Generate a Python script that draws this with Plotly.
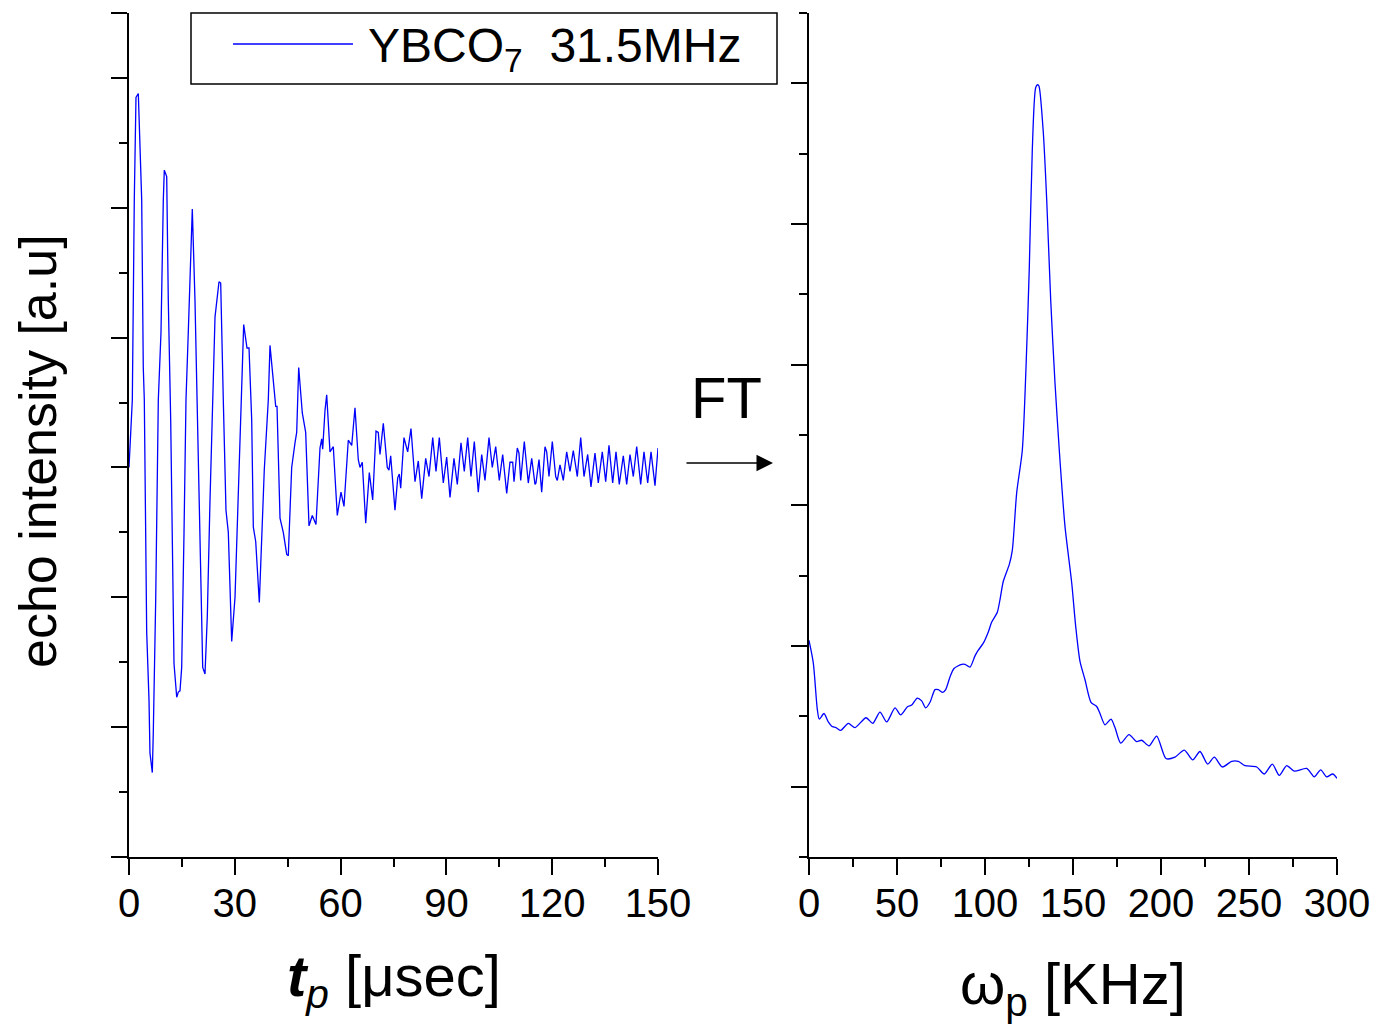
import plotly.graph_objects as go

# ---------------- data ----------------
# left panel: spin-echo intensity vs pulse separation t_p [usec]
echo_t = [0, 0.94, 1.50, 1.98, 2.64, 3.60, 4.05, 4.34, 5.02, 5.67, 5.95, 6.61, 6.89, 7.57,
          8.31, 9.07, 9.73, 10.01, 10.69, 11.14, 11.82, 12.11, 12.76, 13.53, 13.98, 14.46,
          14.94, 15.60, 16.16, 16.81, 17.50, 17.95, 18.71, 19.37, 19.65, 20.33, 20.90, 21.55,
          22.20, 22.97, 23.73, 24.39, 25.52, 26.00, 26.74, 26.94, 27.50, 28.16, 29.12, 30.06,
          30.99, 31.76, 32.52, 33.46, 34.03, 34.79, 35.25, 35.93, 36.95, 38.36, 39.50, 39.98,
          41.60, 41.97, 42.82, 43.75, 44.72, 45.17, 46.13, 47.07, 47.55, 48.12, 49.14, 50.10,
          51.04, 51.97, 53.02, 54.16, 54.64, 54.92, 55.58, 56.06, 56.80, 56.99, 57.93, 59.06,
          60.11, 60.96, 62.18, 63.15, 64.08, 65.02, 65.50, 66.15, 67.12, 68.14, 69.10, 70.04,
          70.69, 71.17, 72.11, 73.24, 73.72, 74.20, 75.42, 76.19, 76.64, 77.04, 77.97, 79.02,
          79.96, 81.10, 82.03, 83.00, 84.13, 85.07, 86.12, 87.05, 87.99, 89.12, 90.08, 91.02,
          92.15, 93.09, 94.14, 95.07, 96.04, 96.97, 97.91, 99.04, 100.01, 100.94, 102.08,
          103.01, 103.98, 105.00, 105.96, 107.10, 108.03, 108.80, 109.17, 110.10, 110.58,
          111.07, 112.09, 113.22, 114.19, 115.12, 115.40, 116.26, 117.02, 117.96, 118.44,
          119.09, 120.03, 120.99, 121.45, 122.21, 123.15, 124.11, 125.05, 125.98, 127.12,
          128.08, 129.02, 130.06, 131.00, 132.13, 133.07, 134.20, 135.17, 136.10, 137.15,
          138.09, 139.02, 140.16, 141.12, 142.06, 143.00, 143.96, 145.09, 146.03, 147.08,
          148.02, 149.15, 150.0]
echo_int = [0.00, 0.52, 2.06, 2.85, 2.88, 2.06, 0.77, 0.52, -1.27, -1.79, -2.20, -2.35, -2.04,
            -1.02, 0.52, 1.04, 2.06, 2.29, 2.24, 1.29, 0.37, -0.25, -1.51, -1.77, -1.73, -1.72,
            -1.54, -0.50, 0.52, 1.04, 1.67, 1.99, 1.29, 0.37, 0.00, -1.02, -1.54, -1.59, -1.15,
            -0.25, 0.52, 1.16, 1.43, 1.42, 0.52, 0.27, -0.33, -0.50, -1.34, -1.00, -0.25, 0.52,
            1.10, 0.92, 0.92, 0.37, -0.46, -0.57, -1.04, -0.02, 0.52, 0.94, 0.47, 0.47, -0.39,
            -0.50, -0.67, -0.68, 0.00, 0.19, 0.27, 0.77, 0.42, 0.27, -0.45, -0.37, -0.44, 0.15,
            0.22, 0.14, 0.44, 0.56, 0.14, 0.12, 0.16, -0.37, -0.19, -0.30, 0.21, 0.17, 0.46,
            0.06, 0.00, 0.04, -0.43, -0.04, -0.25, 0.28, 0.27, 0.10, 0.34, 0.00, -0.02, 0.09,
            -0.33, -0.08, -0.05, -0.16, 0.23, 0.12, 0.30, -0.11, 0.05, -0.24, 0.07, -0.07, 0.23,
            -0.03, 0.23, -0.12, 0.08, -0.23, 0.07, -0.13, 0.19, -0.03, 0.23, -0.07, 0.20, -0.19,
            0.10, -0.10, 0.23, 0.00, 0.16, -0.10, 0.10, -0.20, 0.04, 0.04, -0.11, 0.15, 0.11,
            -0.10, 0.20, -0.12, 0.07, -0.13, -0.12, 0.06, -0.19, 0.16, 0.12, -0.07, 0.20, -0.07,
            -0.10, 0.02, -0.10, 0.12, -0.03, 0.13, -0.07, 0.23, -0.07, 0.10, -0.15, 0.11, -0.12,
            0.12, -0.11, 0.17, -0.12, 0.12, -0.13, 0.09, -0.13, 0.10, -0.07, 0.16, -0.13, 0.12,
            -0.12, 0.12, -0.14, 0.15]

# right panel: Fourier transform vs frequency omega_p [KHz]
ft_freq = [0, 2.44, 4.72, 5.85, 8.52, 10.97, 12.90, 15.34, 18.01, 22.33, 26.14, 32.39, 36.19,
           40.34, 44.15, 48.86, 52.10, 56.08, 58.35, 61.53, 64.03, 66.31, 68.75, 71.59, 73.47,
           75.97, 77.67, 80.11, 82.39, 86.76, 88.64, 91.48, 94.32, 96.19, 99.03, 101.88,
           103.81, 106.99, 108.52, 110.40, 113.81, 115.51, 118.01, 121.19, 123.30, 125.17,
           126.88, 128.81, 129.94, 130.68, 133.13, 135.06, 137.33, 139.77, 142.22, 145.45,
           149.26, 151.53, 153.98, 156.82, 160.23, 163.47, 165.34, 168.18, 171.59, 173.86,
           177.10, 181.82, 186.19, 189.03, 193.18, 197.56, 202.84, 207.95, 213.24, 218.01,
           222.16, 226.53, 230.28, 234.83, 240.17, 243.92, 247.73, 254.38, 258.69, 263.24,
           267.22, 271.42, 275.74, 282.78, 287.10, 290.74, 294.15, 297.56, 300.0]
ft_amp = [1.04, 0.88, 0.55, 0.48, 0.52, 0.46, 0.43, 0.42, 0.40, 0.45, 0.42, 0.49, 0.45, 0.53,
          0.46, 0.56, 0.51, 0.57, 0.58, 0.63, 0.61, 0.56, 0.60, 0.69, 0.69, 0.67, 0.69, 0.78,
          0.84, 0.87, 0.87, 0.85, 0.93, 0.97, 1.02, 1.10, 1.17, 1.24, 1.33, 1.46, 1.58, 1.68,
          2.09, 2.39, 2.98, 3.69, 4.53, 4.97, 4.99, 4.98, 4.65, 4.17, 3.46, 2.87, 2.39, 1.85,
          1.45, 1.14, 0.89, 0.76, 0.60, 0.57, 0.52, 0.44, 0.48, 0.42, 0.31, 0.37, 0.32, 0.33,
          0.29, 0.36, 0.20, 0.21, 0.26, 0.19, 0.25, 0.16, 0.21, 0.14, 0.18, 0.18, 0.15, 0.14,
          0.09, 0.16, 0.08, 0.15, 0.11, 0.13, 0.07, 0.12, 0.07, 0.09, 0.06]

left_xticks = [0, 30, 60, 90, 120, 150]
right_xticks = [0, 50, 100, 150, 200, 250, 300]
legend_label = "YBCO<sub>7</sub>  31.5MHz"

# ---------------- figure ----------------
W, H = 1376, 1034
FONT = "Liberation Sans, Arial, sans-serif"


def px(x):
    return x / W


def py(y):
    return 1 - y / H


fig = go.Figure()
fig.add_trace(go.Scatter(x=echo_t, y=echo_int, mode="lines",
                         line=dict(color="#0000ff", width=1.3),
                         xaxis="x", yaxis="y", showlegend=False))
fig.add_trace(go.Scatter(x=ft_freq, y=ft_amp, mode="lines",
                         line=dict(color="#0000ff", width=1.3, shape="spline", smoothing=0.7),
                         xaxis="x2", yaxis="y2", showlegend=False))

axis_common = dict(showline=True, linecolor="black", linewidth=2, ticks="outside",
                   tickcolor="black", tickwidth=2, ticklen=16, showgrid=False,
                   zeroline=False, mirror=False, automargin=False)
tickfont = dict(family=FONT, size=40, color="black")
minor_common = dict(ticklen=8, tickwidth=2, tickcolor="black", ticks="outside")

fig.update_layout(
    width=W, height=H, autosize=False,
    margin=dict(l=0, r=0, t=0, b=0, pad=0),
    paper_bgcolor="white", plot_bgcolor="white",
    showlegend=False,
    xaxis=dict(domain=[px(129), px(658)], range=[0, 150], anchor="y",
               tickmode="array", tickvals=left_xticks, tickfont=tickfont,
               ticklabelstandoff=-6,
               minor=dict(dtick=15, **minor_common), **axis_common),
    yaxis=dict(domain=[py(857), py(13)], range=[-3, 3.5], anchor="x",
               tickmode="array", tickvals=[-3, -2, -1, 0, 1, 2, 3, 3.5], showticklabels=False,
               minor=dict(dtick=0.5, **minor_common), **axis_common),
    xaxis2=dict(domain=[px(809), px(1337)], range=[0, 300], anchor="y2",
                tickmode="array", tickvals=right_xticks, tickfont=tickfont,
                ticklabelstandoff=-6,
                minor=dict(dtick=25, **minor_common), **axis_common),
    yaxis2=dict(domain=[py(857), py(13)], range=[-0.5, 5.5], anchor="x2",
                tickmode="linear", tick0=0, dtick=1, showticklabels=False,
                minor=dict(dtick=0.5, **minor_common), **axis_common),
)

# legend box (custom, drawn in paper coordinates)
fig.add_shape(type="rect", xref="paper", yref="paper",
              x0=px(191), x1=px(777), y0=py(84), y1=py(13),
              line=dict(color="black", width=1.5), fillcolor="white", layer="above")
fig.add_shape(type="line", xref="paper", yref="paper",
              x0=px(233), x1=px(353), y0=py(44), y1=py(44),
              line=dict(color="#0000ff", width=1.3), layer="above")

annotations = [
    dict(text=legend_label, x=px(366), y=py(49), xanchor="left", yanchor="middle",
         font=dict(family=FONT, size=48, color="black")),
    dict(text="FT", x=px(726), y=py(397), xanchor="center", yanchor="middle",
         font=dict(family=FONT, size=58, color="black")),
    dict(text="echo intensity [a.u]", x=px(38), y=py(451), xanchor="center", yanchor="middle",
         textangle=-90, font=dict(family=FONT, size=52, color="black")),
    dict(text="<b><i>t</i></b><sub><i>p</i></sub> [μsec]",
         x=px(394), y=py(980), xanchor="center", yanchor="middle",
         font=dict(family=FONT, size=58, color="black")),
    dict(text="ω<sub>p</sub> [KHz]",
         x=px(1073), y=py(988), xanchor="center", yanchor="middle",
         font=dict(family=FONT, size=58, color="black")),
]
for a in annotations:
    a.update(xref="paper", yref="paper", showarrow=False)
    fig.add_annotation(**a)

# FT arrow
fig.add_annotation(x=px(773), y=py(463), xref="paper", yref="paper", text="",
                   showarrow=True, ax=-88, ay=0, arrowhead=2, arrowsize=2.2,
                   arrowwidth=1.5, arrowcolor="black")

fig.write_html("out.html", config={"displayModeBar": False},
               post_script="document.body.style.margin='0';")
